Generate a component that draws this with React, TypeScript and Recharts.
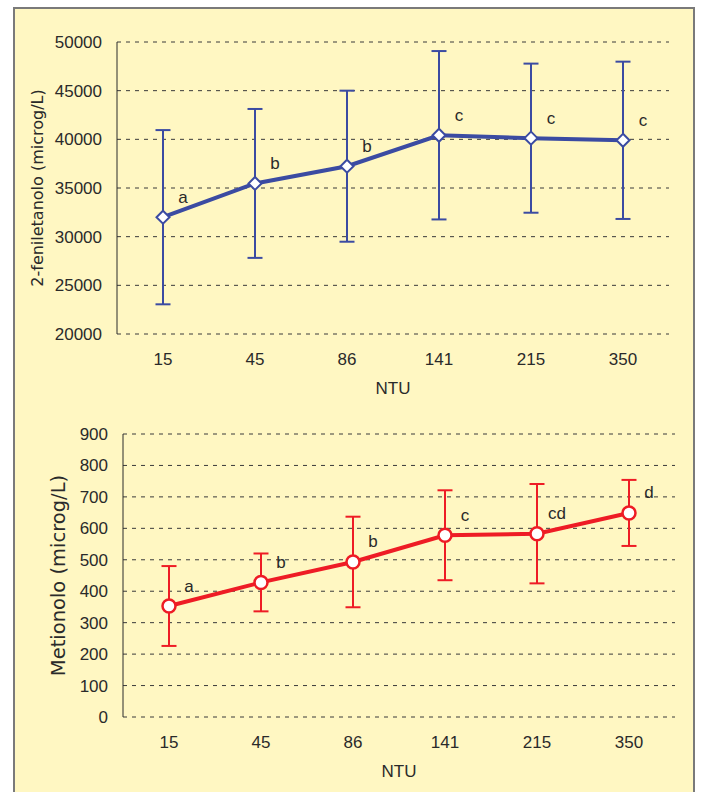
import { LineChart, Line, XAxis, YAxis, CartesianGrid, ErrorBar, LabelList } from 'recharts'

const categories = ['15', '45', '86', '141', '215', '350']

const fenilMean = [32000, 35470, 37240, 40420, 40120, 39900]
const fenilErr = [8950, 7650, 7760, 8650, 7660, 8080]
const fenilLetters = ['a', 'b', 'b', 'c', 'c', 'c']
const fenilTicks = [20000, 25000, 30000, 35000, 40000, 45000, 50000]

const metioMean = [353, 428, 493, 578, 583, 649]
const metioErr = [127, 92, 144, 143, 158, 105]
const metioLetters = ['a', 'b', 'b', 'c', 'cd', 'd']
const metioTicks = [0, 100, 200, 300, 400, 500, 600, 700, 800, 900]

const boundaryTicks = [0, 1, 2, 3, 4, 5, 6]
const centerTicks = [0.5, 1.5, 2.5, 3.5, 4.5, 5.5]

const BLUE = '#3B4BA2'
const RED = '#EE1C25'
const INK = '#2a2a2a'

const build = (mean: number[], err: number[], letters: string[]) =>
  mean.map((v, i) => ({ pos: i + 0.5, value: v, err: err[i], letter: letters[i] }))

const fenilData = build(fenilMean, fenilErr, fenilLetters)
const metioData = build(metioMean, metioErr, metioLetters)

const Diamond = (p: any) => {
  const { cx, cy } = p
  if (cx == null || cy == null) return null
  const s = 6.5
  return (
    <polygon
      points={`${cx},${cy - s} ${cx + s},${cy} ${cx},${cy + s} ${cx - s},${cy}`}
      fill="#fff"
      stroke={BLUE}
      strokeWidth={2}
    />
  )
}

const Letter = (p: any) => {
  const x = p.x ?? p.viewBox?.x
  const y = p.y ?? p.viewBox?.y
  return (
    <text x={x + 20} y={y - 20} textAnchor="middle" dominantBaseline="central" fontSize={17} fill={INK}>
      {p.value}
    </text>
  )
}

const yLabel = (text: string, cx: number, size: number) => (p: any) => {
  const vb = p.viewBox
  const x = vb.x + cx
  const y = vb.y + vb.height / 2
  return (
    <text
      x={x}
      y={y}
      transform={`rotate(-90, ${x}, ${y})`}
      textAnchor="middle"
      dominantBaseline="central"
      fontSize={size}
      fontFamily="DejaVu Sans, Verdana, sans-serif"
      fill={INK}
    >
      {text}
    </text>
  )
}

const ntuLabel = (p: any) => {
  const vb = p.viewBox
  return (
    <text x={vb.x + vb.width / 2} y={vb.y + 54} textAnchor="middle" dominantBaseline="central" fontSize={17} fill={INK}>
      NTU
    </text>
  )
}

interface PanelProps {
  data: ReturnType<typeof build>
  ticks: number[]
  domain: [number, number]
  height: number
  top: number
  yWidth: number
  right: number
  axisH: number
  color: string
  ylabel: (p: any) => any
  dot: any
}

function Panel({ data, ticks, domain, height, top, yWidth, right, axisH, color, ylabel, dot }: PanelProps) {
  return (
    <LineChart width={702} height={height} data={data} margin={{ top, right, bottom: 0, left: 0 }}>
      <CartesianGrid xAxisId="grid" vertical={false} stroke="#3a3a3a" strokeDasharray="4 5" />
      <XAxis
        xAxisId="grid"
        type="number"
        dataKey="pos"
        domain={[0, 6]}
        ticks={boundaryTicks}
        height={0}
        tickSize={5}
        stroke={INK}
        tickFormatter={() => ''}
      />
      <XAxis
        xAxisId="lab"
        type="number"
        dataKey="pos"
        domain={[0, 6]}
        ticks={centerTicks}
        height={axisH}
        axisLine={false}
        tickLine={false}
        tickSize={0}
        tickMargin={19}
        tick={{ fontSize: 17, fill: INK }}
        tickFormatter={(v: number) => categories[Math.floor(v)]}
        label={ntuLabel}
      />
      <YAxis
        type="number"
        domain={domain}
        ticks={ticks}
        width={yWidth}
        stroke={INK}
        tickLine={false}
        tickSize={0}
        tickMargin={15}
        tick={{ fontSize: 17, fill: INK }}
        label={ylabel}
      />
      <Line
        xAxisId="grid"
        dataKey="value"
        stroke={color}
        strokeWidth={4}
        dot={dot}
        activeDot={false}
        isAnimationActive={false}
      >
        <ErrorBar dataKey="err" width={7.5} stroke={color} strokeWidth={2} direction="y" />
        <LabelList dataKey="letter" content={Letter} />
      </Line>
    </LineChart>
  )
}

export default function App() {
  return (
    <div
      style={{
        position: 'absolute',
        left: 0,
        top: 0,
        width: 702,
        height: 792,
        background: '#fff',
        overflow: 'hidden',
        fontFamily: 'Liberation Sans, Arial, sans-serif',
      }}
    >
      <div
        style={{
          position: 'absolute',
          left: 13,
          top: 7,
          width: 678,
          height: 800,
          background: '#FFF7C2',
          border: '2px solid #7a7a7a',
        }}
      />
      <div style={{ position: 'absolute', left: 0, top: 0 }}>
        <Panel
          data={fenilData}
          ticks={fenilTicks}
          domain={[20000, 50000]}
          height={400}
          top={42}
          yWidth={117}
          right={33}
          axisH={66}
          color={BLUE}
          ylabel={yLabel('2-feniletanolo (microg/L)', 37, 16)}
          dot={(p: any) => <Diamond key={p.index} {...p} />}
        />
      </div>
      <div style={{ position: 'absolute', left: 0, top: 400 }}>
        <Panel
          data={metioData}
          ticks={metioTicks}
          domain={[0, 900]}
          height={392}
          top={34}
          yWidth={123}
          right={27}
          axisH={75}
          color={RED}
          ylabel={yLabel('Metionolo (microg/L)', 58, 19.5)}
          dot={{ r: 6.5, fill: '#fff', stroke: RED, strokeWidth: 2.5 }}
        />
      </div>
    </div>
  )
}
